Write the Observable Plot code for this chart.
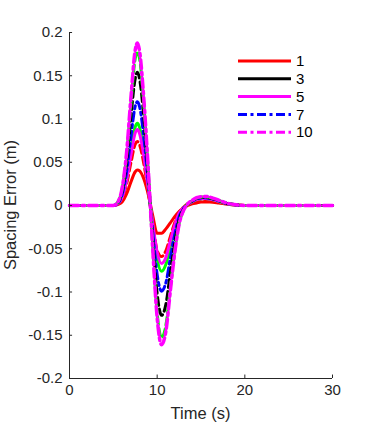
<!DOCTYPE html>
<html>
<head>
<meta charset="utf-8">
<script src="https://cdn.jsdelivr.net/npm/d3@7"></script>
<script src="https://cdn.jsdelivr.net/npm/@observablehq/plot@0.6"></script>
<style>
html,body{margin:0;padding:0;background:#fff;}
</style>
</head>
<body>
<div id="chart"></div>
<script>
// ---- data ----
const times = [0,5,5.5,6,6.5,7,7.5,7.75,8,8.5,9,9.5,10,10.5,11,11.5,12,12.5,13,13.5,14,14.5,15,15.5,16,17,18,19,20,30];

const s1  = [0,0,0.001,0.004,0.013,0.027,0.039,0.041,0.040,0.030,0.012,-0.012,-0.032,-0.032,-0.027,-0.020,-0.013,-0.007,-0.003,0,0.002,0.003,0.004,0.004,0.004,0.003,0.0015,0.0005,0,0];
const s2  = [0,0,0.0015,0.008,0.024,0.049,0.071,0.074,0.070,0.047,0.015,-0.020,-0.052,-0.059,-0.052,-0.036,-0.020,-0.008,-0.002,0.002,0.004,0.006,0.007,0.007,0.0065,0.004,0.0017,0.0005,0,0];
const s4  = [0,0,0.002,0.010,0.030,0.063,0.091,0.095,0.090,0.061,0.020,-0.024,-0.062,-0.076,-0.068,-0.047,-0.026,-0.010,-0.003,0.0016,0.0045,0.0069,0.0078,0.008,0.0074,0.0048,0.002,0.0006,0,0];
const s5  = [0,0,0.0018,0.0093,0.028,0.058,0.084,0.088,0.083,0.056,0.018,-0.021,-0.054,-0.067,-0.060,-0.041,-0.023,-0.009,-0.0025,0.0016,0.0045,0.0069,0.0078,0.008,0.0074,0.0048,0.002,0.0006,0,0];
const s7  = [0,0,0.0024,0.0127,0.038,0.079,0.115,0.120,0.114,0.077,0.025,-0.031,-0.080,-0.099,-0.089,-0.061,-0.034,-0.0135,-0.0037,0.0018,0.0051,0.0077,0.0087,0.009,0.0083,0.0054,0.0023,0.0007,0,0];
const s8  = [0,0,0.0031,0.0163,0.049,0.102,0.147,0.154,0.146,0.099,0.032,-0.040,-0.102,-0.127,-0.114,-0.078,-0.044,-0.017,-0.0047,0.0019,0.0054,0.0082,0.0092,0.0095,0.0087,0.0057,0.0024,0.0008,0,0];
const s9  = [0,0,0.0036,0.0189,0.057,0.117,0.170,0.178,0.169,0.114,0.037,-0.048,-0.124,-0.153,-0.138,-0.095,-0.053,-0.021,-0.0057,0.002,0.0057,0.0086,0.0097,0.010,0.0092,0.006,0.0025,0.0008,0,0];
const s10 = [0,0,0.0038,0.020,0.060,0.124,0.180,0.188,0.178,0.120,0.039,-0.051,-0.130,-0.161,-0.145,-0.099,-0.055,-0.022,-0.006,0.0021,0.006,0.009,0.0102,0.0105,0.0097,0.0063,0.0026,0.0008,0,0];

const xTicks = [0,10,20,30];
const yTicks = [-0.2,-0.15,-0.1,-0.05,0,0.05,0.1,0.15,0.2];
const legendNames = ["1","3","5","7","10"];

// ---- styles ----
const DASH = "8,4", DASHDOT = "9,3.5,3,3.5";
const lineStyles = [
  {v: s1,  stroke: "#ff0000", dash: null,    w: 3},
  {v: s2,  stroke: "#ff0000", dash: DASH,    w: 3},
  {v: s4,  stroke: "#00ff00", dash: null,    w: 3},
  {v: s5,  stroke: "#ff00ff", dash: null,    w: 3},
  {v: s7,  stroke: "#0000ff", dash: DASHDOT, w: 3},
  {v: s8,  stroke: "#000000", dash: DASH,    w: 3},
  {v: s9,  stroke: "#00ff00", dash: DASH,    w: 3},
  {v: s10, stroke: "#ff00ff", dash: DASHDOT, w: 3.5}
];
const legendStyles = [
  {stroke: "#ff0000", dash: null},
  {stroke: "#000000", dash: null},
  {stroke: "#ff00ff", dash: null},
  {stroke: "#0000ff", dash: DASHDOT},
  {stroke: "#ff00ff", dash: DASHDOT}
];

const AX = "#262626";
const FONT = "'Liberation Sans', Arial, Helvetica, sans-serif";

const lineMarks = lineStyles.map(s =>
  Plot.line(times.map((t, i) => ({t, v: s.v[i]})), {
    x: "t", y: "v", stroke: s.stroke, strokeWidth: s.w,
    strokeDasharray: s.dash, curve: "monotone-x", strokeLinejoin: "round"
  })
);

const svg = Plot.plot({
  width: 366, height: 427,
  marginLeft: 69, marginRight: 34, marginTop: 32, marginBottom: 49,
  style: {fontFamily: FONT, fontSize: "15px", color: AX, background: "#fff"},
  x: {domain: [0, 30]},
  y: {domain: [-0.2, 0.2]},
  marks: [
    ...lineMarks,
    Plot.ruleY([-0.2], {x1: 0, x2: 30, stroke: AX, strokeWidth: 1}),
    Plot.ruleX([0], {y1: -0.2, y2: 0.2, stroke: AX, strokeWidth: 1}),
    Plot.ruleX(xTicks, {x: d => d, y1: -0.2, y2: -0.2 + 0.004, stroke: AX, strokeWidth: 1}),
    Plot.ruleY(yTicks, {y: d => d, x1: 0, x2: 0.35, stroke: AX, strokeWidth: 1}),
    Plot.axisX({ticks: xTicks, tickSize: 0, tickPadding: 6, label: null, tickFormat: d => String(d), fill: AX}),
    Plot.axisY({ticks: yTicks, tickSize: 0, tickPadding: 7, label: null, tickFormat: d => String(d), fill: AX})
  ]
});

const sel = d3.select(svg);
// axis labels
sel.append("text").attr("x", 200.5).attr("y", 419).attr("text-anchor", "middle")
  .attr("fill", AX).style("font-size", "16.5px").style("font-family", FONT).text("Time (s)");
sel.append("text").attr("transform", "translate(16,205) rotate(-90)").attr("text-anchor", "middle")
  .attr("fill", AX).style("font-size", "16.5px").style("font-family", FONT).text("Spacing Error (m)");

// legend
const lg = sel.append("g");
legendNames.forEach((name, i) => {
  const y = 61 + i * 17.8;
  const st = legendStyles[i];
  lg.append("line").attr("x1", 238).attr("x2", 291).attr("y1", y).attr("y2", y)
    .attr("stroke", st.stroke).attr("stroke-width", 3)
    .attr("stroke-dasharray", st.dash);
  lg.append("text").attr("x", 296).attr("y", y).attr("dy", "0.35em")
    .attr("text-anchor", "start")
    .attr("fill", "#000").style("font-size", "15px").style("font-family", FONT).text(name);
});

document.getElementById("chart").appendChild(svg);
</script>
</body>
</html>
